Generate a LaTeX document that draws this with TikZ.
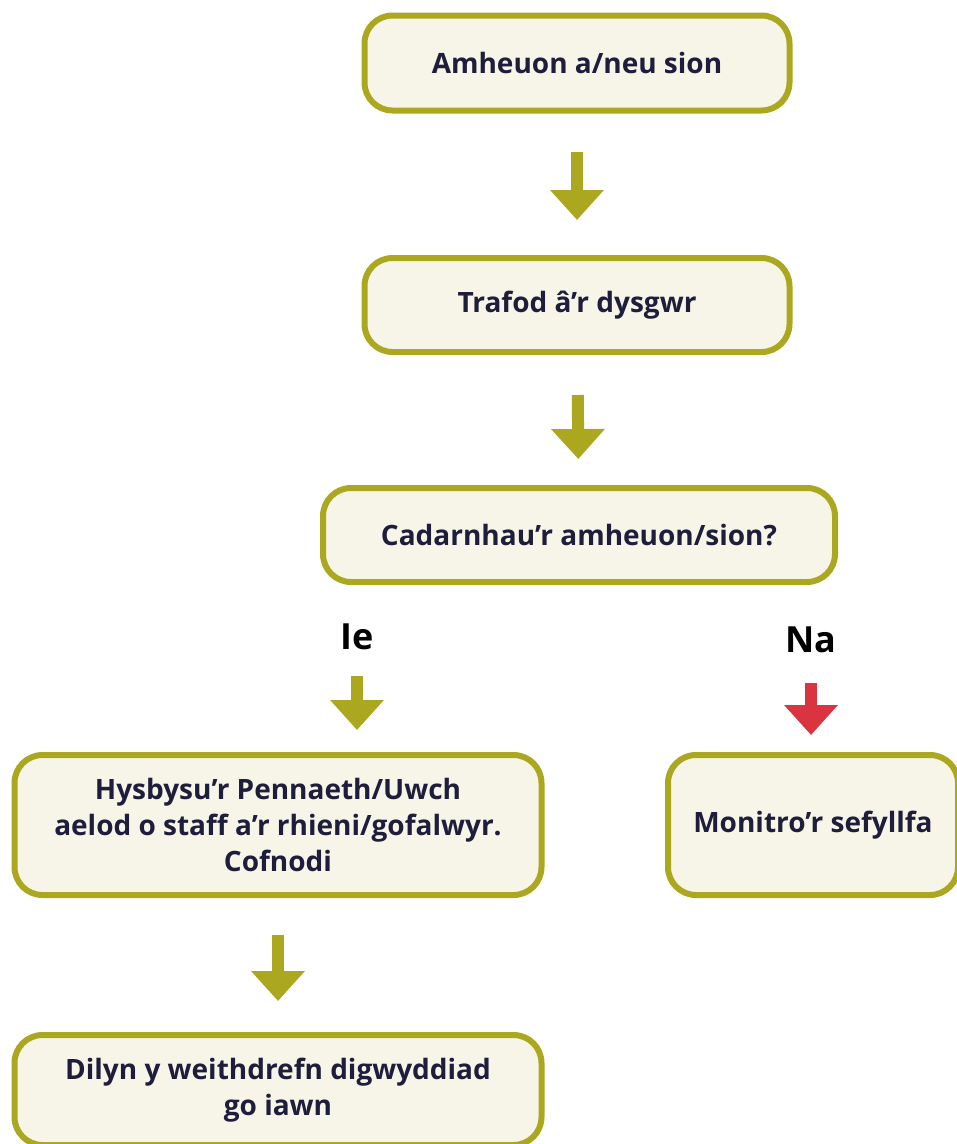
\documentclass[tikz,border=0pt]{standalone}
\usepackage{fontspec}
\setmainfont{Open Sans}
\usepackage{tikz}
\usetikzlibrary{arrows.meta, positioning}
\definecolor{flowOlive}{HTML}{ABA820}
\definecolor{flowCream}{HTML}{F7F5E7}
\definecolor{flowRed}{HTML}{D9343F}
\definecolor{flowInk}{HTML}{1E1E3C}

\begin{document}
\begin{tikzpicture}[
  x=1pt, y=-1pt,
  font=\fontsize{28}{36}\selectfont\bfseries,
  box/.style={draw=flowOlive, line width=6pt, rounded corners=28pt, fill=flowCream,
              text=flowInk, align=center, inner sep=0pt},
  answer/.style={font=\fontsize{36}{40}\selectfont\bfseries, text=black, inner sep=0pt},
  a/.style={-{Triangle[width=52pt, length=30pt]}, line width=12pt, draw=flowOlive},
  an/.style={a, draw=flowRed}
]
\useasboundingbox (0,0) rectangle (957,1144);
\node[box, minimum width=425pt, minimum height=95pt] (doubt) at (577,63) {Amheuon a/neu sion};
\node[box, minimum width=425pt, minimum height=94pt] (talk) at (577,305) {Trafod â'r dysgwr};
\node[box, minimum width=512pt, minimum height=94pt] (confirm) at (579,535) {Cadarnhau'r amheuon/sion?};
\node[answer] (yes) at (357,637) {Ie};
\node[answer] (no) at (811,640) {Na};
\node[box, minimum width=527pt, minimum height=140pt] (inform) at (278,825)
  {Hysbysu'r Pennaeth/Uwch\\aelod o staff a'r rhieni/gofalwyr.\\Cofnodi};
\node[box, minimum width=290pt, minimum height=140pt] (monitor) at (813,825) {Monitro'r sefyllfa};
\node[box, minimum width=527pt, minimum height=110pt] (follow) at (278,1090)
  {Dilyn y weithdrefn digwyddiad\\go iawn};
\draw[a, shorten <=38pt, shorten >=35pt] (doubt) -- (talk);
\draw[a, shorten <=40pt, shorten >=26pt] (talk) -- (confirm);
\draw[a, shorten <=26pt, shorten >=22pt] (yes) -- (yes |- inform.north);
\draw[an, shorten <=30pt, shorten >=17pt] (no) -- (no |- monitor.north);
\draw[a, shorten <=37pt, shorten >=31pt] (inform) -- (follow);
\end{tikzpicture}
\end{document}
